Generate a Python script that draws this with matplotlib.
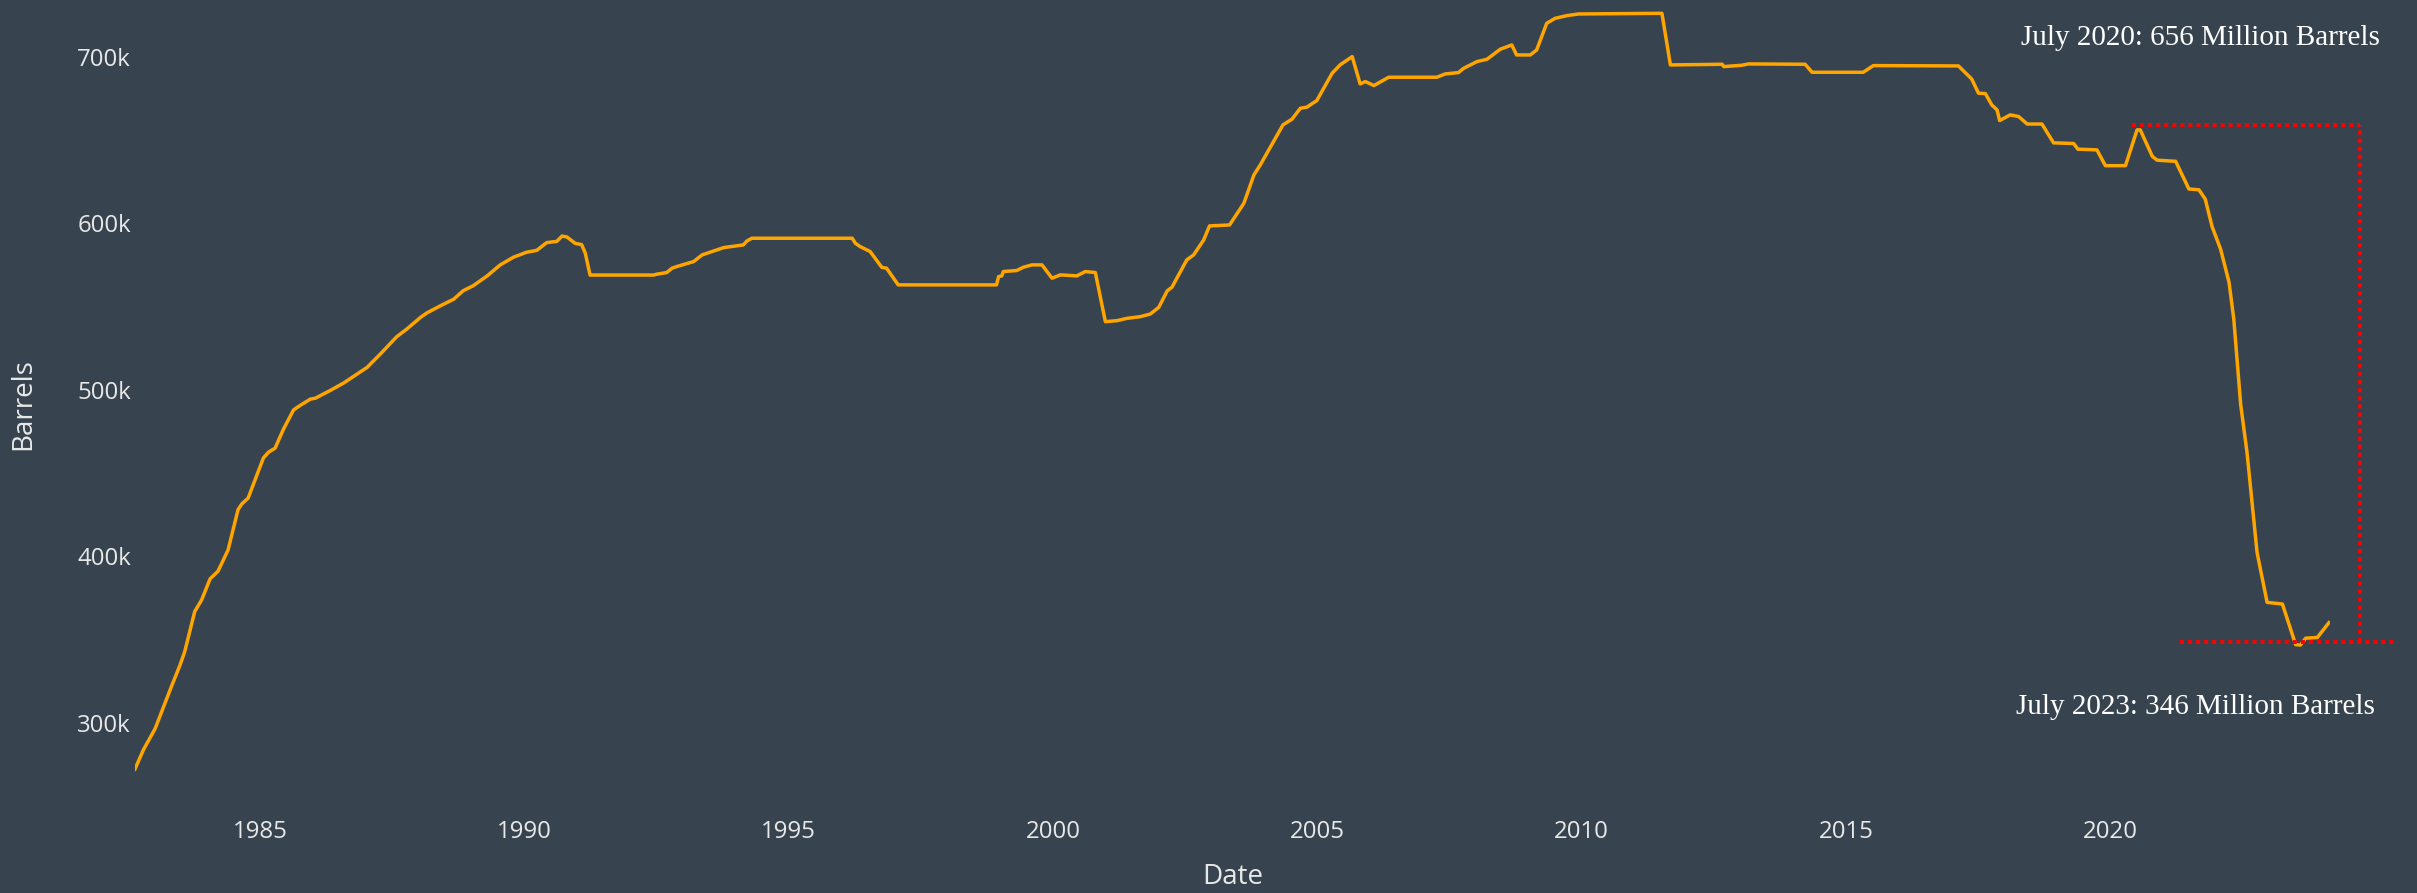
import matplotlib
matplotlib.use("Agg")
import matplotlib.pyplot as plt
from matplotlib.ticker import FuncFormatter

# Strategic reserve level, thousand barrels
years = [
    1982.63, 1982.79, 1983.01, 1983.32, 1983.48, 1983.57, 1983.76, 1983.89,
    1984.05, 1984.20, 1984.39, 1984.58, 1984.65, 1984.77, 1985.06, 1985.16,
    1985.28, 1985.44, 1985.63, 1985.76, 1985.95, 1986.04, 1986.32, 1986.58,
    1986.89, 1987.02, 1987.27, 1987.58, 1987.77, 1988.03, 1988.15, 1988.40,
    1988.66, 1988.84, 1989.03, 1989.29, 1989.54, 1989.79, 1990.04, 1990.23,
    1990.42, 1990.61, 1990.71, 1990.80, 1990.96, 1991.08, 1991.15, 1991.24,
    1992.44, 1992.50, 1992.69, 1992.79, 1992.88, 1993.20, 1993.36, 1993.51,
    1993.77, 1994.14, 1994.21, 1994.30, 1996.20, 1996.26, 1996.35, 1996.54,
    1996.76, 1996.85, 1997.07, 1998.93, 1998.97, 1999.03, 1999.06, 1999.31,
    1999.44, 1999.60, 1999.79, 1999.98, 2000.14, 2000.45, 2000.61, 2000.80,
    2000.99, 2001.21, 2001.40, 2001.65, 2001.84, 2002.00, 2002.16, 2002.25,
    2002.53, 2002.66, 2002.85, 2002.96, 2003.34, 2003.61, 2003.80, 2003.92,
    2004.35, 2004.52, 2004.68, 2004.80, 2004.99, 2005.28, 2005.43, 2005.66,
    2005.81, 2005.91, 2006.07, 2006.35, 2007.26, 2007.42, 2007.67, 2007.77,
    2008.02, 2008.21, 2008.46, 2008.68, 2008.77, 2009.03, 2009.15, 2009.34,
    2009.50, 2009.72, 2009.94, 2011.52, 2011.68, 2012.66, 2012.69, 2013.03,
    2013.16, 2014.23, 2014.36, 2015.33, 2015.52, 2017.13, 2017.38, 2017.51,
    2017.64, 2017.76, 2017.86, 2017.91, 2018.11, 2018.27, 2018.43, 2018.71,
    2018.93, 2019.31, 2019.39, 2019.75, 2019.91, 2020.29, 2020.51, 2020.57,
    2020.80, 2020.89, 2021.24, 2021.49, 2021.68, 2021.80, 2021.93, 2022.09,
    2022.25, 2022.34, 2022.47, 2022.59, 2022.78, 2022.97, 2023.26, 2023.51,
    2023.60, 2023.70, 2023.92, 2024.14,
]
barrels = [
    272.3, 283.9, 296.5, 321.9, 334.6, 342.7, 366.9, 373.8,
    386.5, 391.1, 403.8, 428.1, 431.5, 435.0, 459.2, 462.7,
    465.0, 476.5, 488.0, 490.8, 494.5, 495.0, 499.6, 504.2,
    510.7, 513.5, 521.5, 531.9, 536.5, 543.5, 546.2, 550.4,
    554.5, 559.6, 562.6, 568.4, 575.1, 579.7, 582.7, 583.8,
    588.5, 589.2, 592.4, 591.9, 588.0, 587.3, 582.1, 569.0,
    569.0, 569.5, 570.5, 573.1, 574.1, 577.1, 581.1, 582.7,
    585.5, 587.1, 589.5, 591.1, 591.1, 588.1, 586.1, 583.1,
    573.6, 573.1, 563.1, 563.1, 568.1, 568.5, 571.1, 571.7,
    573.7, 575.1, 575.1, 567.1, 569.1, 568.5, 571.1, 570.5,
    541.0, 541.6, 543.0, 544.0, 545.6, 549.6, 559.5, 561.7,
    578.1, 581.1, 590.1, 598.5, 599.1, 612.1, 629.1, 635.1,
    659.2, 662.6, 669.2, 669.8, 673.8, 690.2, 695.2, 700.2,
    683.8, 685.2, 682.8, 687.8, 687.8, 689.8, 690.6, 693.2,
    697.2, 698.6, 704.6, 707.2, 701.2, 701.2, 704.2, 720.2,
    723.2, 724.8, 725.8, 726.2, 695.2, 695.6, 694.2, 695.0,
    695.8, 695.6, 690.8, 690.8, 694.8, 694.6, 686.8, 678.2,
    678.0, 671.2, 668.2, 661.8, 665.2, 664.2, 659.7, 659.7,
    648.4, 648.0, 644.6, 644.2, 634.7, 634.7, 656.2, 656.2,
    640.2, 638.0, 637.3, 620.7, 620.2, 614.6, 598.0, 584.6,
    564.6, 542.4, 491.3, 462.4, 402.4, 372.4, 371.4, 347.0,
    346.8, 350.9, 351.3, 360.2,
]

x_ticks = [1985, 1990, 1995, 2000, 2005, 2010, 2015, 2020]
y_ticks = [300, 400, 500, 600, 700]

# dotted bracket marking the drawdown
top_level = 659.2
low_level = 348.6
top_x = [2020.42, 2024.73]
low_x = [2021.33, 2025.45]
bracket_x = 2024.73

note_top = "July 2020: 656 Million Barrels"
note_low = "July 2023: 346 Million Barrels"

bg = "#37444f"
txt = "#e8e8e8"

plt.rcParams["font.family"] = ["Open Sans", "DejaVu Sans"]

fig = plt.figure(figsize=(24.17, 8.93), dpi=100, facecolor=bg)
ax = fig.add_axes([135 / 2417, 1 - 808 / 893, 2195 / 2417, 808 / 893])
ax.set_facecolor(bg)

ax.plot(years, barrels, color="#FFA500", lw=2.5, solid_joinstyle="round")

red = dict(color="red", lw=2.9, linestyle=(0, (1, 1)), clip_on=False)
ax.plot(top_x, [top_level, top_level], **red)
ax.plot(low_x, [low_level, low_level], **red)
ax.plot([bracket_x, bracket_x], [low_level, top_level], **red)

ax.set_xlim(1982.63, 2024.16)
ax.set_ylim(248.9, 734.2)

ax.set_xticks(x_ticks)
ax.set_yticks(y_ticks)
ax.yaxis.set_major_formatter(FuncFormatter(lambda v, p: f"{int(v)}k"))
ax.tick_params(length=0, colors=txt, labelsize=17.3)
ax.tick_params(axis="y", pad=3)
ax.tick_params(axis="x", pad=9)
for s in ax.spines.values():
    s.set_visible(False)

ax.set_xlabel("Date", color=txt, fontsize=20, va="center")
ax.set_ylabel("Barrels", color=txt, fontsize=20, va="center")
ax.xaxis.set_label_coords(0.5, -0.0854)
ax.yaxis.set_label_coords(-0.051, 0.5)

fig.text(2380 / 2417, 1 - 45 / 893, note_top, ha="right", va="baseline",
         family="Liberation Serif", fontsize=21, color="white")
fig.text(2375 / 2417, 1 - 714 / 893, note_low, ha="right", va="baseline",
         family="Liberation Serif", fontsize=21, color="white")

fig.savefig("out.png", dpi=100, facecolor=bg)
